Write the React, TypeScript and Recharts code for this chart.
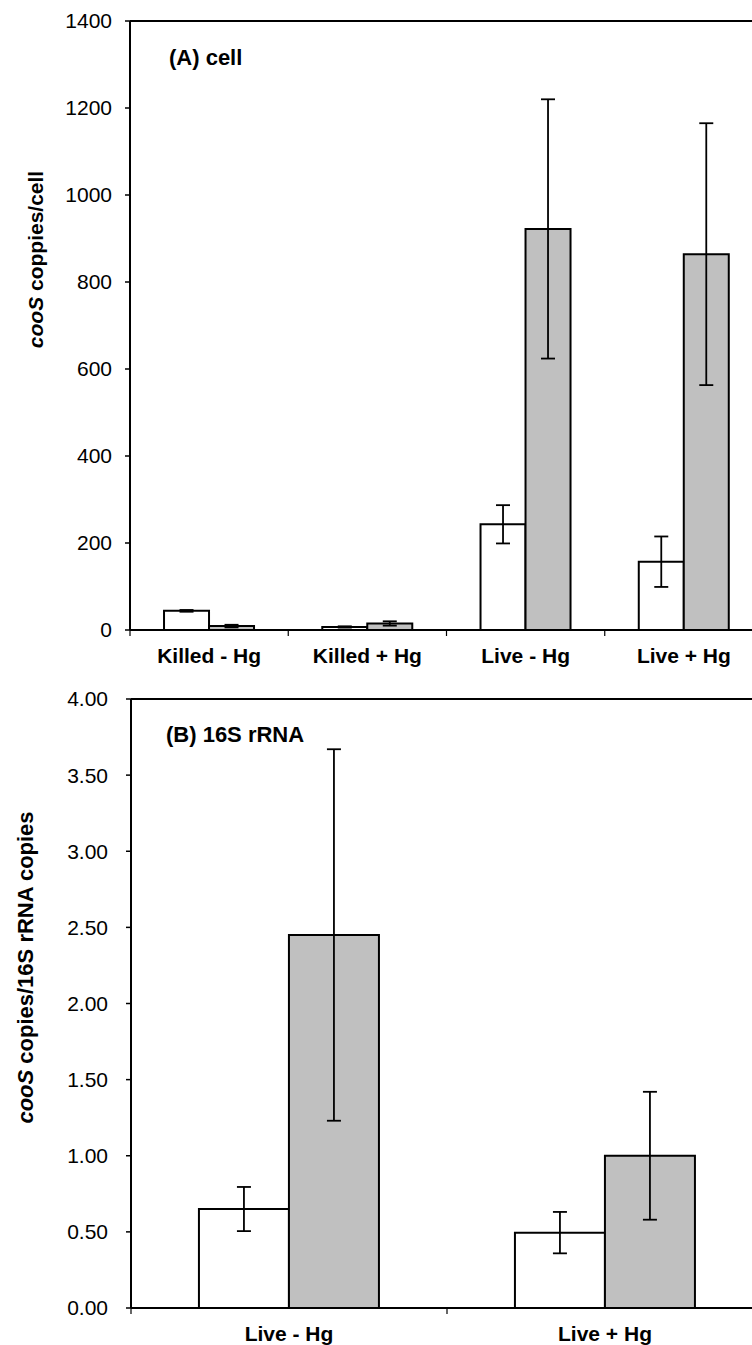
import React from 'react';
import { BarChart, Bar, XAxis, YAxis, ErrorBar, ReferenceLine } from 'recharts';

// ---- Panel A data ----
const topCategories = ['Killed - Hg', 'Killed + Hg', 'Live - Hg', 'Live + Hg'];
const topOpen = [44, 7, 243, 157];
const topOpenErr = [2, 1.5, 44, 58];
const topShaded = [9, 15, 922, 864];
const topShadedErr = [3, 5, 298, 301];
const topTicks = [0, 200, 400, 600, 800, 1000, 1200, 1400];

// ---- Panel B data ----
const bottomCategories = ['Live - Hg', 'Live + Hg'];
const bottomOpen = [0.65, 0.495];
const bottomOpenErr = [0.145, 0.136];
const bottomShaded = [2.45, 1.0];
const bottomShadedErr = [1.22, 0.42];
const bottomTicks = [0, 0.5, 1, 1.5, 2, 2.5, 3, 3.5, 4];

const topData = topCategories.map((name, i) => ({
  name,
  open: topOpen[i],
  openErr: topOpenErr[i],
  shaded: topShaded[i],
  shadedErr: topShadedErr[i],
}));

const bottomData = bottomCategories.map((name, i) => ({
  name,
  open: bottomOpen[i],
  openErr: bottomOpenErr[i],
  shaded: bottomShaded[i],
  shadedErr: bottomShadedErr[i],
}));

const FONT = '"Liberation Sans", Arial, Helvetica, sans-serif';
const CHART_W = 780;
const MARGIN_RIGHT = 17;

function makeXTick(band: number, count: number) {
  return (props: any) => {
    const { x, y, payload, index } = props;
    return (
      <g>
        <line x1={x - band / 2} x2={x - band / 2} y1={y} y2={y + 6} stroke="#000" strokeWidth={1.2} />
        {index === count - 1 ? (
          <line x1={x + band / 2} x2={x + band / 2} y1={y} y2={y + 6} stroke="#000" strokeWidth={1.2} />
        ) : null}
        <text x={x} y={y + 33} textAnchor="middle" fontFamily={FONT} fontWeight="bold" fontSize={21} fill="#000">
          {payload.value}
        </text>
      </g>
    );
  };
}

function makeYTitle(rest: string, offsetX: number, offsetY: number, size: number) {
  return (p: any) => {
    const vb = p.viewBox || { x: 0, y: 0, width: 130, height: 609 };
    const cx = vb.x + offsetX;
    const cy = vb.y + vb.height / 2 + offsetY;
    return (
      <text
        x={cx}
        y={cy}
        transform={`rotate(-90, ${cx}, ${cy})`}
        textAnchor="middle"
        fontFamily={FONT}
        fontWeight="bold"
        fontSize={size}
        fill="#000"
      >
        <tspan fontStyle="italic">cooS</tspan>
        <tspan>{rest}</tspan>
      </text>
    );
  };
}

function makePanelLabel(text: string, dx: number, dy: number) {
  return (p: any) => {
    const vb = p.viewBox || { x: 130, y: 21 };
    return (
      <text x={vb.x + dx} y={vb.y + dy} fontFamily={FONT} fontWeight="bold" fontSize={22} fill="#000">
        {text}
      </text>
    );
  };
}

export default function App() {
  const topPlotW = CHART_W - MARGIN_RIGHT - 130;
  const bottomPlotW = CHART_W - MARGIN_RIGHT - 131;
  return (
    <div
      style={{
        position: 'absolute',
        left: 0,
        top: 0,
        width: 752,
        height: 1345,
        overflow: 'hidden',
        background: '#fff',
      }}
    >
      <div style={{ position: 'absolute', left: 0, top: 0 }}>
        <BarChart
          width={CHART_W}
          height={680}
          data={topData}
          margin={{ top: 21, right: MARGIN_RIGHT, bottom: 0, left: 0 }}
          barCategoryGap="21.5%"
          barGap={0}
        >
          <XAxis
            dataKey="name"
            height={50}
            interval={0}
            tickLine={false}
            tickSize={0}
            tickMargin={0}
            axisLine={{ stroke: '#000', strokeWidth: 2 }}
            tick={makeXTick(topPlotW / topCategories.length, topCategories.length)}
          />
          <YAxis
            type="number"
            width={130}
            domain={[0, 1400]}
            ticks={topTicks}
            interval={0}
            tickSize={5}
            tickMargin={13}
            axisLine={{ stroke: '#000', strokeWidth: 2 }}
            tickLine={{ stroke: '#000', strokeWidth: 1.5 }}
            tick={{ fill: '#000', fontSize: 21, fontFamily: FONT }}
            label={{ content: makeYTitle(' coppies/cell', 43, -66, 21) }}
          />
          <ReferenceLine
            y={1400}
            stroke="#000"
            strokeWidth={2}
            label={{ content: makePanelLabel('(A) cell', 39, 44) }}
          />
          <Bar dataKey="open" fill="#ffffff" stroke="#000" strokeWidth={2} isAnimationActive={false}>
            <ErrorBar dataKey="openErr" width={7} stroke="#000" strokeWidth={1.8} isAnimationActive={false} />
          </Bar>
          <Bar dataKey="shaded" fill="#c0c0c0" stroke="#000" strokeWidth={2} isAnimationActive={false}>
            <ErrorBar dataKey="shadedErr" width={7} stroke="#000" strokeWidth={1.8} isAnimationActive={false} />
          </Bar>
        </BarChart>
      </div>
      <div style={{ position: 'absolute', left: 0, top: 680 }}>
        <BarChart
          width={CHART_W}
          height={665}
          data={bottomData}
          margin={{ top: 19, right: MARGIN_RIGHT, bottom: 0, left: 0 }}
          barCategoryGap="21.5%"
          barGap={0}
        >
          <XAxis
            dataKey="name"
            height={37}
            interval={0}
            tickLine={false}
            tickSize={0}
            tickMargin={0}
            axisLine={{ stroke: '#000', strokeWidth: 2 }}
            tick={makeXTick(bottomPlotW / bottomCategories.length, bottomCategories.length)}
          />
          <YAxis
            type="number"
            width={131}
            domain={[0, 4]}
            ticks={bottomTicks}
            interval={0}
            tickSize={5}
            tickMargin={18}
            tickFormatter={(v: number) => v.toFixed(2)}
            axisLine={{ stroke: '#000', strokeWidth: 2 }}
            tickLine={{ stroke: '#000', strokeWidth: 1.5 }}
            tick={{ fill: '#000', fontSize: 21, fontFamily: FONT }}
            label={{ content: makeYTitle(' copies/16S rRNA copies', 33, -36, 22) }}
          />
          <ReferenceLine
            y={4}
            stroke="#000"
            strokeWidth={2}
            label={{ content: makePanelLabel('(B) 16S rRNA', 35, 43) }}
          />
          <Bar dataKey="open" fill="#ffffff" stroke="#000" strokeWidth={2} isAnimationActive={false}>
            <ErrorBar dataKey="openErr" width={7} stroke="#000" strokeWidth={1.8} isAnimationActive={false} />
          </Bar>
          <Bar dataKey="shaded" fill="#c0c0c0" stroke="#000" strokeWidth={2} isAnimationActive={false}>
            <ErrorBar dataKey="shadedErr" width={7} stroke="#000" strokeWidth={1.8} isAnimationActive={false} />
          </Bar>
        </BarChart>
      </div>
    </div>
  );
}
